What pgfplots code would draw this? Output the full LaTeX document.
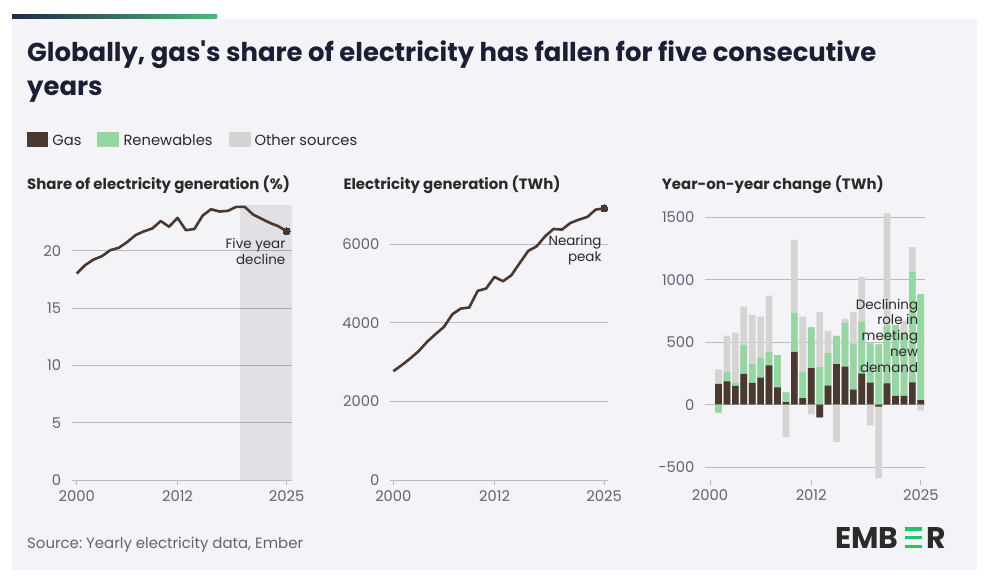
\documentclass[border=0pt]{standalone}
\usepackage{fontspec}
\setmainfont{Poppins}[Ligatures=TeXOff]
\usepackage{pgfplots}
\pgfplotsset{compat=1.18}
\usepackage{pgfplotstable}
\frenchspacing

\definecolor{bg}{HTML}{F4F4F8}
\definecolor{gasc}{HTML}{4B3831}
\definecolor{renc}{HTML}{96D6A3}
\definecolor{othc}{HTML}{D6D3D3}
\definecolor{gridc}{HTML}{B9B9C0}
\definecolor{tickc}{HTML}{5F6475}
\definecolor{titlec}{HTML}{1B1F33}
\definecolor{textc}{HTML}{2A2A2A}
\definecolor{navy}{HTML}{1C2B4A}
\definecolor{barg}{HTML}{4FB87A}
\definecolor{logog}{HTML}{22C36B}

\pgfplotstableread{
year share
2000 18.02
2001 18.75
2002 19.24
2003 19.53
2004 20.06
2005 20.26
2006 20.76
2007 21.37
2008 21.70
2009 21.95
2010 22.60
2011 22.10
2012 22.88
2013 21.80
2014 21.90
2015 23.08
2016 23.63
2017 23.43
2018 23.49
2019 23.84
2020 23.84
2021 23.17
2022 22.80
2023 22.44
2024 22.15
2025 21.70
}\sharetab

\pgfplotstableread{
year twh
2000 2771
2001 2924
2002 3093
2003 3280
2004 3517
2005 3712
2006 3898
2007 4220
2008 4364
2009 4390
2010 4814
2011 4873
2012 5169
2013 5059
2014 5212
2015 5525
2016 5831
2017 5949
2018 6203
2019 6390
2020 6373
2021 6542
2022 6627
2023 6695
2024 6881
2025 6915
}\gentab

\pgfplotstableread{
year gas ren oth
2001 166 -64 117
2002 187 75 289
2003 150 26 402
2004 246 233 307
2005 174 152 391
2006 217 157 332
2007 316 106 450
2008 139 259 0
2009 21 78 -262
2010 423 310 588
2011 53 209 444
2012 294 326 -78
2013 -102 302 439
2014 152 262 177
2015 326 225 -297
2016 305 350 35
2017 120 367 256
2018 249 414 361
2019 176 316 -165
2020 -16 484 -575
2021 171 460 904
2022 70 569 0
2023 70 508 96
2024 179 888 195
2025 37 848 -48
}\yoytab

\pgfplotsset{
  emb/.style={
    scale only axis, anchor=south west,
    enlargelimits=false,
    axis x line*=bottom, axis y line*=left,
    y axis line style={draw=none},
    x axis line style={draw=gridc, line width=0.8bp},
    ytick style={draw=none},
    xtick style={draw=gridc, line width=0.8bp},
    tick align=outside, major tick length=5bp,
    ymajorgrids, grid style={gridc, line width=0.8bp},
    xtick={2000,2012,2025}, xticklabels={2000,2012,2025},
    tick label style={font=\fontsize{14.8}{14.8}\selectfont, text=tickc},
    xticklabel style={yshift=-2bp},
    yticklabel style={xshift=-2bp},
    /pgf/number format/assume math mode=true,
  }
}

\begin{document}
\begin{tikzpicture}[x=1bp,y=1bp]
\useasboundingbox (0,0) rectangle (997,580);
\fill[white] (0,0) rectangle (997,580);
\fill[bg] (12,10) rectangle (977,561);
\shade[left color=navy, right color=barg] (12,561) rectangle (217,565);

% title
\node[anchor=base west, inner sep=0, text=titlec, font=\fontsize{26}{30}\bfseries] at (27,518.5) {Globally, gas's share of electricity has fallen for five consecutive};
\node[anchor=base west, inner sep=0, text=titlec, font=\fontsize{26}{30}\bfseries] at (27,484) {years};

% legend
\fill[gasc] (26.7,433.3) rectangle (48.3,447.7);
\node[anchor=base west, inner sep=0, text=textc, font=\fontsize{14.8}{14.8}\selectfont] at (52.3,434.5) {Gas};
\fill[renc] (96.7,433.3) rectangle (119,447.7);
\node[anchor=base west, inner sep=0, text=textc, font=\fontsize{14.8}{14.8}\selectfont] at (123.3,434.5) {Renewables};
\fill[othc] (228.7,433.3) rectangle (250.7,447.7);
\node[anchor=base west, inner sep=0, text=textc, font=\fontsize{14.8}{14.8}\selectfont] at (254.3,434.5) {Other sources};

% subtitles
\node[anchor=base west, inner sep=0, text=textc, font=\fontsize{15}{15}\bfseries] at (27,390) {Share of electricity generation (\%)};
\node[anchor=base west, inner sep=0, text=textc, font=\fontsize{15}{15}\bfseries] at (343.3,390) {Electricity generation (TWh)};
\node[anchor=base west, inner sep=0, text=textc, font=\fontsize{15}{15}\bfseries] at (661.7,390) {Year-on-year change (TWh)};

% panel 1
\begin{axis}[emb, at={(71.7bp,100bp)}, width=220bp, height=275bp,
  xmin=1999.4, xmax=2025.6, ymin=0, ymax=24,
  ytick={0,5,10,15,20}, yticklabels={0,5,10,15,20}, clip=false]
\addplot[fill=black, fill opacity=0.075, draw=none] coordinates {(2019.5,0) (2019.5,24) (2025.6,24) (2025.6,0)};
\addplot[gasc, line width=2.6bp, line join=round, mark=*, mark indices={26}, mark size=3.6bp, mark options={fill=gasc, draw=gasc, line width=0bp}] table[x=year, y=share] {\sharetab};
\end{axis}
\node[anchor=base east, inner sep=0, text=textc, font=\fontsize{13.5}{13.5}\selectfont] at (285.5,331.3) {Five year};
\node[anchor=base east, inner sep=0, text=textc, font=\fontsize{13.5}{13.5}\selectfont] at (285.5,315) {decline};

% panel 2
\begin{axis}[emb, at={(390bp,100bp)}, width=218.3bp, height=275bp,
  xmin=1999.6, xmax=2025.5, ymin=0, ymax=7000,
  ytick={0,2000,4000,6000}, yticklabels={0,2000,4000,6000}, clip=false]
\addplot[gasc, line width=2.6bp, line join=round, mark=*, mark indices={26}, mark size=3.6bp, mark options={fill=gasc, draw=gasc, line width=0bp}] table[x=year, y=twh] {\gentab};
\end{axis}
\node[anchor=base east, inner sep=0, text=textc, font=\fontsize{13.5}{13.5}\selectfont] at (601.7,334) {Nearing};
\node[anchor=base east, inner sep=0, text=textc, font=\fontsize{13.5}{13.5}\selectfont] at (601.7,318.3) {peak};

% panel 3
\begin{axis}[emb, at={(705bp,100.4bp)}, width=220bp, height=269.6bp,
  xmin=1999.4, xmax=2025.5, ymin=-600, ymax=1560,
  x axis line style={draw=none},
  ytick={-500,0,500,1000,1500}, yticklabels={-500,0,500,1000,1500}]
% positive stacks (drawn overlapping from 0, largest first)
\addplot[ybar, bar width=6.7bp, bar shift=0pt, fill=othc, draw=none] table[x=year, y expr={max(\thisrow{gas},0)+max(\thisrow{ren},0)+max(\thisrow{oth},0)}] {\yoytab};
\addplot[ybar, bar width=6.7bp, bar shift=0pt, fill=renc, draw=none] table[x=year, y expr={max(\thisrow{gas},0)+max(\thisrow{ren},0)}] {\yoytab};
\addplot[ybar, bar width=6.7bp, bar shift=0pt, fill=gasc, draw=none] table[x=year, y expr={max(\thisrow{gas},0)}] {\yoytab};
% negative stacks
\addplot[ybar, bar width=6.7bp, bar shift=0pt, fill=othc, draw=none] table[x=year, y expr={min(\thisrow{gas},0)+min(\thisrow{ren},0)+min(\thisrow{oth},0)}] {\yoytab};
\addplot[ybar, bar width=6.7bp, bar shift=0pt, fill=renc, draw=none] table[x=year, y expr={min(\thisrow{gas},0)+min(\thisrow{ren},0)}] {\yoytab};
\addplot[ybar, bar width=6.7bp, bar shift=0pt, fill=gasc, draw=none] table[x=year, y expr={min(\thisrow{gas},0)}] {\yoytab};
\end{axis}
\node[anchor=base east, inner sep=0, text=textc, font=\fontsize{13.5}{13.5}\selectfont] at (918.3,270.5) {Declining};
\node[anchor=base east, inner sep=0, text=textc, font=\fontsize{13.5}{13.5}\selectfont] at (918.3,255) {role in};
\node[anchor=base east, inner sep=0, text=textc, font=\fontsize{13.5}{13.5}\selectfont] at (918.3,239.5) {meeting};
\node[anchor=base east, inner sep=0, text=textc, font=\fontsize{13.5}{13.5}\selectfont] at (918.3,223.5) {new};
\node[anchor=base east, inner sep=0, text=textc, font=\fontsize{13.5}{13.5}\selectfont] at (918.3,207.5) {demand};

% source
\node[anchor=base west, inner sep=0, text=tickc, font=\fontsize{15}{15}\selectfont] at (27,31.7) {Source: Yearly electricity data, Ember};

% logo
\node[anchor=base west, inner sep=0, text=textc, font=\fontsize{30}{30}\bfseries] at (835,31.7) {EMB};
\fill[logog] (905,49.3) rectangle (921.7,52.7);
\fill[logog] (905,40.7) rectangle (921.7,44);
\fill[logog] (905,31.7) rectangle (921.7,35);
\node[anchor=base west, inner sep=0, text=textc, font=\fontsize{30}{30}\bfseries] at (926.2,31.7) {R};
\end{tikzpicture}
\end{document}
